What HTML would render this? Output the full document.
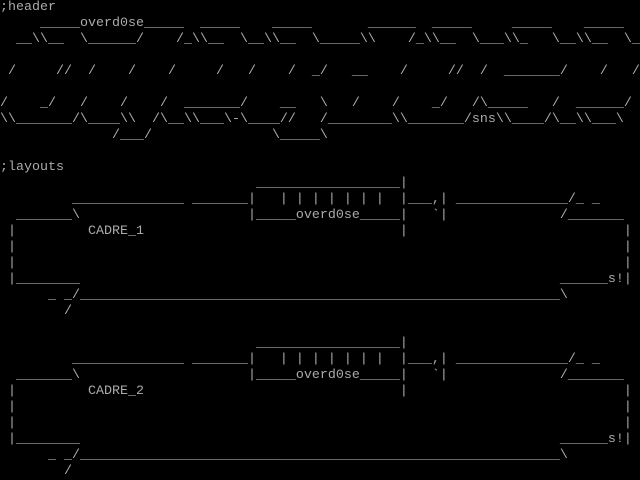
<!DOCTYPE html>
<html><head><meta charset="utf-8"><style>
html,body{margin:0;padding:0;background:#000;width:640px;height:480px;overflow:hidden}
pre{margin:0;padding:0;font-family:"Liberation Mono",monospace;font-size:13.333px;line-height:16px;color:#aaa;white-space:pre}
</style></head><body><pre>;header
     _____overd0se_____  _____    _____       ______  _____     _____    _____
  __\\__  \______/    /_\\__  \__\\__  \_____\\    /_\\__  \___\\_   \__\\__  \_

 /     //  /    /    /     /   /    /  _/   __    /     //  /  _______/    /   /

/    _/   /    /    /  _______/    __   \   /    /    _/   /\_____   /  ______/
\\_______/\____\\  /\__\\___\-\____//   /________\\_______/sns\\____/\__\\___\
              /___/               \_____\

;layouts
                                __________________|
         ______________ _______|   | | | | | | |  |___,| ______________/_ _
  _______\                     |_____overd0se_____|   `|              /_______
 |         CADRE_1                                |                           |
 |                                                                            |
 |                                                                            |
 |________                                                            ______s!|
      _ _/____________________________________________________________\
        /

                                __________________|
         ______________ _______|   | | | | | | |  |___,| ______________/_ _
  _______\                     |_____overd0se_____|   `|              /_______
 |         CADRE_2                                |                           |
 |                                                                            |
 |                                                                            |
 |________                                                            ______s!|
      _ _/____________________________________________________________\
        /</pre></body></html>
